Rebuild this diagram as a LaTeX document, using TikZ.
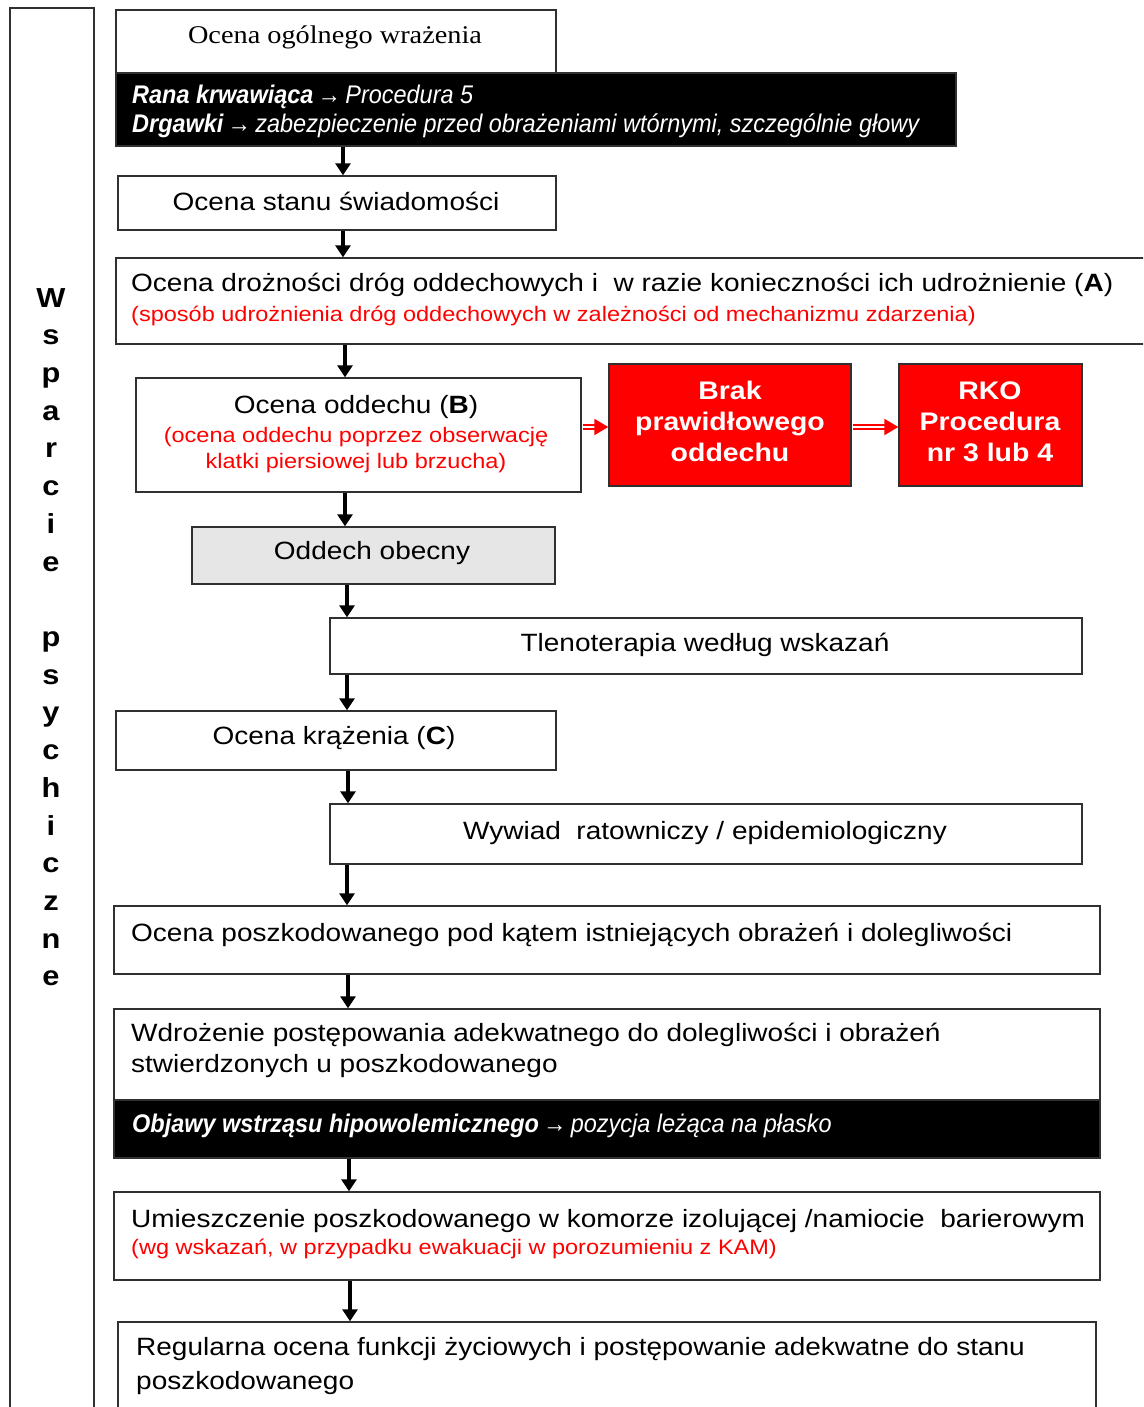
\documentclass[tikz,border=0pt]{standalone}
\usepackage{fontspec}
\setmainfont[FakeStretch=1.12]{Liberation Sans}
\newfontfamily\blkface[FakeStretch=0.92]{Liberation Sans}
\newfontfamily\serifface[FakeStretch=1.11]{Liberation Serif}
\usetikzlibrary{arrows.meta}
\definecolor{edge}{HTML}{303030}
\definecolor{paleg}{HTML}{E6E6E6}
\definecolor{alarm}{HTML}{FF0000}

\begin{document}
\begin{tikzpicture}[x=1pt,y=-1pt,
  box/.style={draw=edge, line width=1.4pt, inner sep=0pt, fill=white},
  blackbox/.style={draw=edge, line width=1.4pt, inner sep=0pt, fill=black},
  redbox/.style={draw=edge, line width=1.4pt, inner sep=0pt, fill=alarm},
  txt/.style={inner sep=0pt, font=\fontsize{25}{30}\selectfont},
  note/.style={inner sep=0pt, text=alarm, font=\fontsize{21}{25}\selectfont},
  inv/.style={inner sep=0pt, text=white, font=\blkface\fontsize{25.5}{30}\selectfont\itshape},
  alarmtxt/.style={inner sep=0pt, text=white, font=\fontsize{25.4}{30}\selectfont\bfseries},
  vert/.style={inner sep=0pt, font=\fontsize{27.5}{30}\selectfont\bfseries},
  flow/.style={line width=3.4pt, -{Triangle[width=15pt,length=12pt]}},
]
\clip (0,0) rectangle (1143,1407);
\fill[white] (0,0) rectangle (1143,1407);

% side column
\node[box, minimum width=84, minimum height=1420] (side) at (52,718) {};
\foreach \ch [count=\i from 0] in {W,s,p,a,r,c,i,e,{},p,s,y,c,h,i,c,z,n,e}
  \node[vert, anchor=base] (v\i) at (51,{307+37.72*\i}) {\ch};

% boxes
\node[box, minimum width=440, minimum height=63] (gen) at (336,41.5) {};
\node[blackbox, minimum width=840, minimum height=73] (gen2) at (536,109.5) {};
\node[box, minimum width=438, minimum height=54] (b2) at (337,203) {};
\node[box, minimum width=1034, minimum height=86] (b3) at (633,301) {};
\node[box, minimum width=445, minimum height=114] (b4) at (358.5,435) {};
\node[redbox, minimum width=242, minimum height=122] (b5) at (730,425) {};
\node[redbox, minimum width=183, minimum height=122] (b6) at (990.5,425) {};
\node[box, fill=paleg, minimum width=363, minimum height=57] (b7) at (373.5,555.5) {};
\node[box, minimum width=752, minimum height=56] (b8) at (706,646) {};
\node[box, minimum width=440, minimum height=59] (b9) at (336,740.5) {};
\node[box, minimum width=752, minimum height=60] (b10) at (706,834) {};
\node[box, minimum width=986, minimum height=68] (b11) at (607,940) {};
\node[box, minimum width=986, minimum height=91] (b12) at (607,1054.5) {};
\node[blackbox, minimum width=986, minimum height=58] (bk2) at (607,1129) {};
\node[box, minimum width=986, minimum height=88] (b13) at (607,1236) {};
\node[box, minimum width=978, minimum height=98] (b14) at (607,1371) {};

% texts
\node[inner sep=0pt, anchor=base, font=\serifface\fontsize{25.5}{30}\selectfont] (t1) at (335,44) {Ocena ogólnego wrażenia};
\node[inv, anchor=base west] (t1a) at (132,104) {\textbf{Rana krwawiąca}\,→\,Procedura 5};
\node[inv, anchor=base west] (t1b) at (132,133) {\textbf{Drgawki}\,→\,zabezpieczenie przed obrażeniami wtórnymi, szczególnie głowy};
\node[txt, anchor=base] (t2) at (336,211) {Ocena stanu świadomości};
\node[txt, anchor=base west] (t3) at (131,291) {Ocena drożności dróg oddechowych i\ \ w razie konieczności ich udrożnienie (\textbf{A})};
\node[note, anchor=base west] (t3r) at (131,321) {(sposób udrożnienia dróg oddechowych w zależności od mechanizmu zdarzenia)};
\node[txt, anchor=base] (t4) at (356,413) {Ocena oddechu (\textbf{B})};
\node[note, anchor=base] (t4r) at (356,442) {(ocena oddechu poprzez obserwację};
\node[note, anchor=base] (t4s) at (356,468) {klatki piersiowej lub brzucha)};
\node[alarmtxt, anchor=base] (t5a) at (730,399) {Brak};
\node[alarmtxt, anchor=base] (t5b) at (730,430) {prawidłowego};
\node[alarmtxt, anchor=base] (t5c) at (730,461) {oddechu};
\node[alarmtxt, anchor=base] (t6a) at (990,399) {RKO};
\node[alarmtxt, anchor=base] (t6b) at (990,430) {Procedura};
\node[alarmtxt, anchor=base] (t6c) at (990,461) {nr 3 lub 4};
\node[txt, anchor=base] (t7) at (372,559) {Oddech obecny};
\node[txt, anchor=base] (t8) at (705,651) {Tlenoterapia według wskazań};
\node[txt, anchor=base] (t9) at (334,744) {Ocena krążenia (\textbf{C})};
\node[txt, anchor=base] (t10) at (705,839) {Wywiad\ \ ratowniczy / epidemiologiczny};
\node[txt, anchor=base west] (t11) at (131,941) {Ocena poszkodowanego pod kątem istniejących obrażeń i dolegliwości};
\node[txt, anchor=base west] (t12a) at (131,1041) {Wdrożenie postępowania adekwatnego do dolegliwości i obrażeń};
\node[txt, anchor=base west] (t12b) at (131,1072) {stwierdzonych u poszkodowanego};
\node[inv, anchor=base west] (t12c) at (132,1132) {\textbf{Objawy wstrząsu hipowolemicznego}\,→\,pozycja leżąca na płasko};
\node[txt, anchor=base west] (t13) at (131,1227) {Umieszczenie poszkodowanego w komorze izolującej /namiocie\ \ barierowym};
\node[note, anchor=base west] (t13r) at (131,1254) {(wg wskazań, w przypadku ewakuacji w porozumieniu z KAM)};
\node[txt, anchor=base west] (t14a) at (136,1355) {Regularna ocena funkcji życiowych i postępowanie adekwatne do stanu};
\node[txt, anchor=base west] (t14b) at (136,1389) {poszkodowanego};

% connector columns
\coordinate (xa) at (343,0);
\coordinate (xb) at (345,0);
\coordinate (xc) at (347,0);
\coordinate (xd) at (348,0);
\coordinate (xe) at (349,0);
\coordinate (xf) at (350,0);
\coordinate (ry) at (0,427);

\draw[flow] (gen2.south -| xa) -- (b2.north -| xa);
\draw[flow] (b2.south -| xa) -- (b3.north -| xa);
\draw[flow] (b3.south -| xb) -- (b4.north -| xb);
\draw[flow] (b4.south -| xb) -- (b7.north -| xb);
\draw[flow] (b7.south -| xc) -- (b8.north -| xc);
\draw[flow] (b8.south -| xc) -- (b9.north -| xc);
\draw[flow] (b9.south -| xd) -- (b10.north -| xd);
\draw[flow] (b10.south -| xc) -- (b11.north -| xc);
\draw[flow] (b11.south -| xd) -- (b12.north -| xd);
\draw[flow] (bk2.south -| xe) -- (b13.north -| xe);
\draw[flow] (b13.south -| xf) -- (b14.north -| xf);

% double red connectors
\foreach \a/\b in {b4/b5, b5/b6} {
  \draw[alarm, line width=5.6pt, shorten <=1pt, shorten >=8pt] (\a.east |- ry) -- (\b.west |- ry);
  \draw[white, line width=2pt, shorten <=1pt, -{Triangle[alarm, width=16pt, length=14pt]}] (\a.east |- ry) -- (\b.west |- ry);
}
\end{tikzpicture}
\end{document}
